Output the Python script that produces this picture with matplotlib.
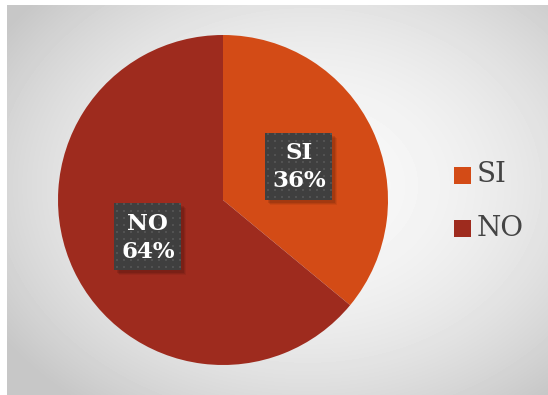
import numpy as np
import matplotlib
matplotlib.use("Agg")
import matplotlib.pyplot as plt
from matplotlib.patches import Rectangle

labels = ["SI", "NO"]
values = [36, 64]
colors = ["#D34B16", "#9E2B1E"]

W, H = 548, 395
fig = plt.figure(figsize=(W / 100, H / 100), dpi=100)
fig.patch.set_facecolor("white")

# radial gradient backdrop
bg = fig.add_axes([7 / W, 0, (W - 7) / W, (H - 5) / H])
bg.set_axis_off()
yy, xx = np.mgrid[0:390, 0:541]
cx, cy = 300, 180
r = np.sqrt(((xx - cx) / 330) ** 2 + ((yy - cy) / 250) ** 2)
shade = np.clip(0.975 - 0.16 * r ** 2, 0.78, 1.0)
bg.imshow(shade, cmap="gray", vmin=0, vmax=1, aspect="auto",
          interpolation="bilinear")

# pie
R = 165
cxp, cyp = 223, 200
ax = fig.add_axes([(cxp - R) / W, (H - cyp - R) / H, 2 * R / W, 2 * R / H])
ax.set_axis_off()
ax.pie(values, colors=colors, startangle=90, counterclock=False, radius=1,
       wedgeprops=dict(linewidth=0))
ax.set_xlim(-1, 1)
ax.set_ylim(-1, 1)
ax.set_aspect("equal")

# data label boxes
label_pos = [(0.46, 0.206), (-0.455, -0.224)]
half = 33.5 / R
for (lx, ly), lab, v in zip(label_pos, labels, values):
    for k, a in enumerate([0.06, 0.08, 0.1]):
        off = (5 - k) / R
        ax.add_patch(Rectangle((lx - half + off, ly - half - off),
                               2 * half, 2 * half, facecolor="black",
                               alpha=a, linewidth=0, zorder=4))
    box = Rectangle((lx - half, ly - half), 2 * half, 2 * half,
                    facecolor="#3f3f3f", linewidth=0, zorder=5)
    ax.add_patch(box)
    step = 7 / R
    gx = np.arange(lx - half + 3 / R, lx + half, step)
    gy = np.arange(ly - half + 3 / R, ly + half, step)
    GX, GY = np.meshgrid(gx, gy)
    ax.scatter(GX.ravel(), GY.ravel(), s=2.0, marker="s", color="#525252",
               linewidths=0, zorder=6)
    ax.text(lx, ly - 1 / R, f"{lab}\n{v}%", ha="center", va="center",
            color="white", fontsize=16.5, fontweight="bold",
            family="DejaVu Serif", linespacing=1.3, zorder=7)

# legend
for i, (lab, c) in enumerate(zip(labels, colors)):
    ycen = 175 + i * 53
    fig.patches.append(Rectangle((454 / W, (H - ycen - 8.5) / H), 17 / W, 17 / H,
                                 transform=fig.transFigure, facecolor=c,
                                 linewidth=0))
    fig.text(477 / W, (H - ycen) / H, lab, ha="left", va="center",
             fontsize=20, family="DejaVu Serif", color="#444444")

fig.savefig("out.png", dpi=100)
